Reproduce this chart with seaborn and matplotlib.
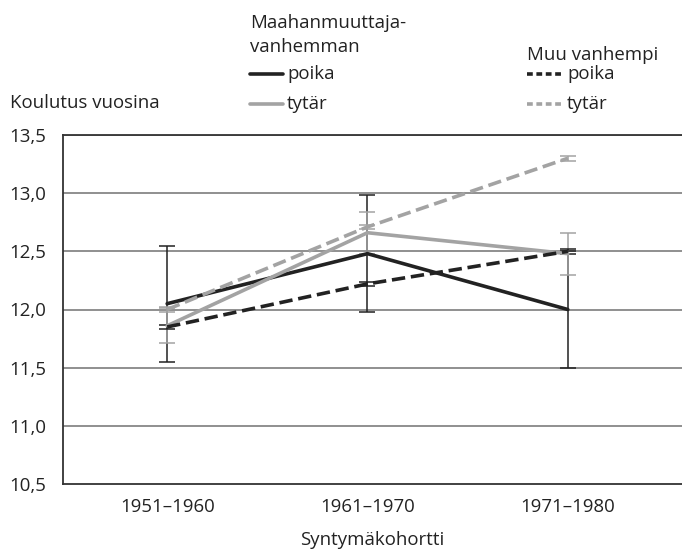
import matplotlib
matplotlib.use("Agg")
import matplotlib.pyplot as plt
from matplotlib.lines import Line2D
import seaborn as sns
import pandas as pd
import numpy as np

# ---- data ----
cohorts = ["1951–1960", "1961–1970", "1971–1980"]
imm_son = [12.05, 12.48, 12.00]
imm_son_err = [0.50, 0.50, 0.50]
imm_dau = [11.86, 12.66, 12.48]
imm_dau_err = [0.15, 0.18, 0.18]
oth_son = [11.85, 12.22, 12.50]
oth_son_err = [0.02, 0.02, 0.02]
oth_dau = [12.00, 12.71, 13.30]
oth_dau_err = [0.02, 0.02, 0.02]
yticks = [10.5, 11.0, 11.5, 12.0, 12.5, 13.0, 13.5]
ytick_labels = ["10,5", "11,0", "11,5", "12,0", "12,5", "13,0", "13,5"]

sns.set_theme(style="white")
plt.rcParams["font.family"] = ["Open Sans", "DejaVu Sans"]

BLACK = "#222222"
GREY = "#a3a3a3"

series = [
    ("imm_son", imm_son, imm_son_err, BLACK, "-"),
    ("imm_dau", imm_dau, imm_dau_err, GREY, "-"),
    ("oth_son", oth_son, oth_son_err, BLACK, "--"),
    ("oth_dau", oth_dau, oth_dau_err, GREY, "--"),
]

rows = []
for name, vals, errs, c, ls in series:
    for i, (v, e) in enumerate(zip(vals, errs)):
        rows.append({"series": name, "x": i, "y": v, "err": e})
df = pd.DataFrame(rows)

fig = plt.figure(figsize=(6.82, 5.5), dpi=100)
ax = fig.add_axes([63 / 682, 1 - 484 / 550, 1 - 63 / 682, (484 - 135) / 550])

# gridlines
for yv in yticks[1:]:
    ax.axhline(yv, color="#7d7d7d", lw=1.2, zorder=0)

# error bars
for name, vals, errs, c, ls in series:
    sub = df[df.series == name]
    ax.errorbar(sub.x, sub.y, yerr=sub.err, fmt="none", ecolor=c,
                elinewidth=1.1, capsize=5.5, capthick=1.1, zorder=2)

# lines
for name, vals, errs, c, ls in series:
    sub = df[df.series == name]
    sns.lineplot(data=sub, x="x", y="y", ax=ax, color=c, lw=2.6,
                 linestyle=ls, dashes=False if ls == "-" else (2.5, 1.2),
                 legend=False, zorder=3, estimator=None, errorbar=None)

ax.set_xlim(-0.52, 2.57)
ax.set_ylim(10.5, 13.5)
ax.set_yticks(yticks)
ax.set_yticklabels(ytick_labels)
ax.set_xticks(range(len(cohorts)))
ax.set_xticklabels(cohorts)
fs = 13.4
ax.tick_params(axis="both", length=0, labelsize=fs, colors="#222222")
ax.tick_params(axis="y", pad=12)
ax.tick_params(axis="x", pad=10)
ax.set_xlabel("Syntymäkohortti", fontsize=fs, color="#222222", labelpad=11)
ax.set_ylabel("")
ax.spines["right"].set_visible(False)
for s in ["left", "bottom", "top"]:
    ax.spines[s].set_color("#333333")
    ax.spines[s].set_linewidth(1.3)

def fy(py):
    return 1 - py / 550

def fx(px):
    return px / 682

tc = "#222222"
fig.text(fx(10), fy(103), "Koulutus vuosina", fontsize=fs, color=tc, va="center", ha="left")
fig.text(fx(250), fy(23), "Maahanmuuttaja-", fontsize=fs, color=tc, va="center", ha="left")
fig.text(fx(250), fy(47), "vanhemman", fontsize=fs, color=tc, va="center", ha="left")
fig.text(fx(527), fy(55), "Muu vanhempi", fontsize=fs, color=tc, va="center", ha="left")

legend_items = [
    (250, 283, 74, BLACK, "-", "poika"),
    (250, 283, 104, GREY, "-", "tytär"),
    (527, 563, 74, BLACK, "--", "poika"),
    (527, 563, 104, GREY, "--", "tytär"),
]
for x0, x1, yy, c, ls, lab in legend_items:
    ln = Line2D([fx(x0), fx(x1)], [fy(yy), fy(yy)], transform=fig.transFigure,
                color=c, lw=2.6, linestyle=ls)
    if ls == "--":
        ln.set_dashes((1.6, 1.0))
    fig.add_artist(ln)
    fig.text(fx(x1 + 4), fy(yy), lab, fontsize=fs, color=tc, va="center", ha="left")

fig.savefig("out.png", dpi=100, facecolor="white")
